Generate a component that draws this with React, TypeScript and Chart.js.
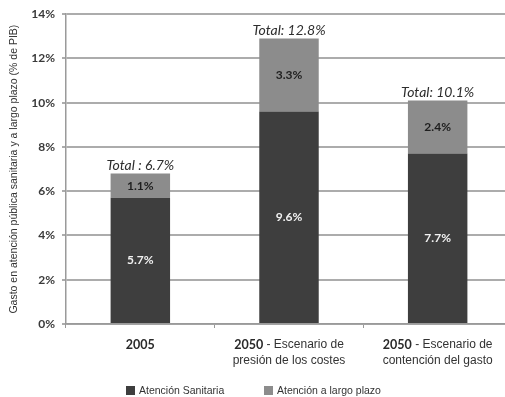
import React, { useEffect, useRef } from "react";
import { Chart, registerables } from "chart.js";

Chart.register(...registerables);

// Category labels, split into the lines shown under each bar
const categoryLines: string[][] = [
  ["2005"],
  ["2050 - Escenario de", "presión de los costes"],
  ["2050 - Escenario de", "contención del gasto"],
];
// Public spending, % of GDP
const healthCare = [5.7, 9.6, 7.7];
const longTermCare = [1.1, 3.3, 2.4];
const totalLabels = ["Total : 6.7%", "Total: 12.8%", "Total: 10.1%"];
const seriesNames = ["Atención Sanitaria", "Atención a largo plazo"];
const yTitle = "Gasto en atención pública sanitaria y a largo plazo (% de PIB)";

const DARK = "#3e3e3e";
const LIGHT = "#8c8c8c";
const NARROW = "'Liberation Sans Narrow', 'Liberation Sans', Arial, sans-serif";
const CAL = "Lato, 'Open Sans', sans-serif";

const decorPlugin = {
  id: "decor",
  afterDatasetsDraw(chart: any) {
    const ctx = chart.ctx as CanvasRenderingContext2D;
    const x = chart.scales.x;
    const area = chart.chartArea;
    ctx.save();

    // segment values
    chart.data.datasets.forEach((ds: any, di: number) => {
      const meta = chart.getDatasetMeta(di);
      meta.data.forEach((el: any, i: number) => {
        const v = ds.data[i] as number;
        const cy = (el.y + el.base) / 2;
        ctx.font = `bold 12px ${CAL}`;
        ctx.textAlign = "center";
        ctx.textBaseline = "middle";
        ctx.fillStyle = di === 0 ? "#f2f2f2" : "#1e1e1e";
        ctx.fillText(v.toFixed(1) + "%", el.x, cy);
      });
    });

    // stack totals
    const topMeta = chart.getDatasetMeta(chart.data.datasets.length - 1);
    topMeta.data.forEach((el: any, i: number) => {
      ctx.font = `italic 14px ${CAL}`;
      ctx.textAlign = "center";
      ctx.textBaseline = "bottom";
      ctx.fillStyle = "#2e2e2e";
      ctx.fillText(totalLabels[i], el.x, el.y - 1);
    });

    // category labels
    categoryLines.forEach((lines, i) => {
      const cx = x.getPixelForValue(i);
      lines.forEach((line, li) => {
        const y = 345 + li * 16;
        ctx.textBaseline = "middle";
        if (li === 0) {
          const sp = line.indexOf(" ");
          const year = sp >= 0 ? line.slice(0, sp) : line;
          const rest = sp >= 0 ? line.slice(sp) : "";
          ctx.font = `bold 12.5px ${CAL}`;
          const wy = ctx.measureText(year).width;
          ctx.font = `12px ${NARROW}`;
          const wr = ctx.measureText(rest).width;
          const sx = cx - (wy + wr) / 2;
          ctx.textAlign = "left";
          ctx.fillStyle = "#2a2a2a";
          ctx.font = `bold 12.5px ${CAL}`;
          ctx.fillText(year, sx, y);
          ctx.font = `12px ${NARROW}`;
          ctx.fillStyle = "#333";
          ctx.fillText(rest, sx + wy, y);
        } else {
          ctx.font = `12px ${NARROW}`;
          ctx.textAlign = "center";
          ctx.fillStyle = "#333";
          ctx.fillText(line, cx, y);
        }
      });
    });

    // y-axis title
    ctx.save();
    ctx.translate(14, (area.top + area.bottom) / 2);
    ctx.rotate(-Math.PI / 2);
    ctx.font = `10.5px ${NARROW}`;
    ctx.textAlign = "center";
    ctx.textBaseline = "middle";
    ctx.fillStyle = "#333";
    ctx.fillText(yTitle, 0, 0);
    ctx.restore();

    // legend
    const legendX = [126, 264];
    const colors = [DARK, LIGHT];
    seriesNames.forEach((name, i) => {
      ctx.fillStyle = colors[i];
      ctx.fillRect(legendX[i], 386, 9, 9);
      ctx.font = `10.5px ${NARROW}`;
      ctx.textAlign = "left";
      ctx.textBaseline = "middle";
      ctx.fillStyle = "#333";
      ctx.fillText(name, legendX[i] + 13, 391);
    });

    ctx.restore();
  },
};

export default function App() {
  const ref = useRef<HTMLCanvasElement>(null);

  useEffect(() => {
    if (!ref.current) return;
    const chart = new Chart(ref.current, {
      type: "bar",
      data: {
        labels: categoryLines.map((l) => l.join(" ")),
        datasets: [
          {
            label: seriesNames[0],
            data: healthCare,
            backgroundColor: DARK,
            barPercentage: 0.4,
            categoryPercentage: 1,
          },
          {
            label: seriesNames[1],
            data: longTermCare,
            backgroundColor: LIGHT,
            barPercentage: 0.4,
            categoryPercentage: 1,
          },
        ],
      },
      options: {
        responsive: false,
        animation: false,
        layout: { padding: { top: 14, left: 0, right: 0, bottom: 0 } },
        plugins: { legend: { display: false }, tooltip: { enabled: false } },
        scales: {
          x: {
            stacked: true,
            offset: true,
            grid: {
              display: true,
              drawOnChartArea: false,
              drawTicks: true,
              tickLength: 4,
              color: "#999",
              lineWidth: 1,
            },
            border: { color: "#9a9a9a", width: 1.5 },
            ticks: { color: "rgba(0,0,0,0)", font: { size: 2 } },
            afterFit: (s: any) => {
              s.height = 73;
            },
          },
          y: {
            stacked: true,
            min: 0,
            max: 14,
            ticks: {
              stepSize: 2,
              padding: 7,
              color: "#3a3a3a",
              font: { family: CAL, size: 12, weight: "bold" },
              callback: (v: any) => v + "%",
            },
            grid: {
              color: "#acacac",
              lineWidth: 2,
              tickLength: 4,
            },
            border: { color: "#9a9a9a", width: 1.5 },
            afterFit: (s: any) => {
              s.width = 66;
            },
          },
        },
      },
      plugins: [decorPlugin],
    });
    return () => chart.destroy();
  }, []);

  return (
    <div
      style={{
        position: "absolute",
        left: 0,
        top: 0,
        width: 505,
        height: 397,
        overflow: "hidden",
        background: "#fff",
      }}
    >
      <canvas ref={ref} width={512} height={397} style={{ display: "block" }} />
    </div>
  );
}
